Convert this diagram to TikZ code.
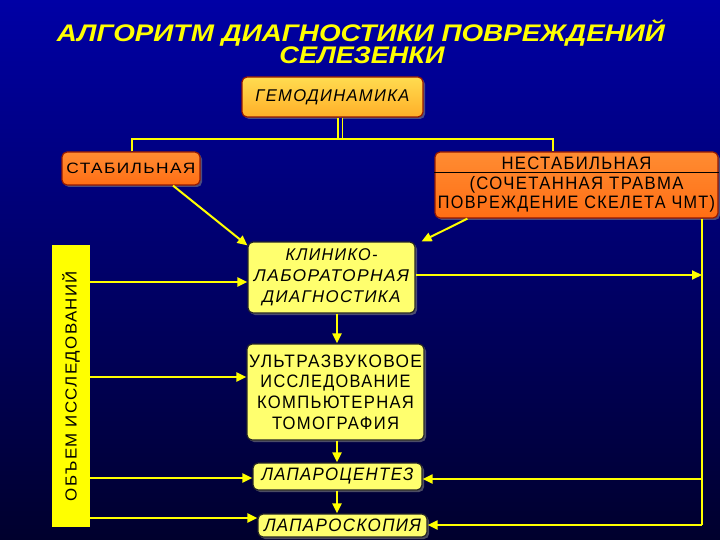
\documentclass[tikz,border=0pt]{standalone}
\usepackage{fontspec}
\setmainfont{Liberation Sans}
\newfontfamily\spaced[LetterSpace=8]{Liberation Sans}
\usetikzlibrary{arrows.meta,shadows}
\definecolor{bgtop}{RGB}{0,0,165}
\definecolor{bgbot}{RGB}{0,0,45}
\definecolor{ylw}{RGB}{255,255,0}
\definecolor{pale}{RGB}{255,255,110}
\definecolor{orng}{RGB}{255,110,20}
\definecolor{orngtop}{RGB}{255,140,50}
\definecolor{gold}{RGB}{255,220,80}
\definecolor{goldbot}{RGB}{255,175,40}
\definecolor{rim}{RGB}{150,25,0}
\newcommand{\fit}[2]{\resizebox{#1pt}{\height}{#2}}

\begin{document}
\begin{tikzpicture}[x=1pt, y=-1pt,
  box/.style={rounded corners=5pt, inner sep=0pt, align=center, text=black, line width=1.2pt,
    drop shadow={opacity=0.6, shadow xshift=2pt, shadow yshift=-2pt}},
  pale box/.style={box, draw=black!85, fill=pale},
  orange box/.style={box, draw=rim, top color=orngtop, bottom color=orng},
  wire/.style={ylw, line width=1.5pt},
  arr/.style={ylw, line width=2pt, -{Triangle[length=10pt, width=9pt]}}]
  \useasboundingbox (0,0) rectangle (720,540);
  \shade[top color=bgtop, bottom color=bgbot] (0,0) rectangle (720,540);

  % title
  \node[ylw, anchor=base, inner sep=0pt, font=\bfseries\itshape\fontsize{24}{24}\selectfont] (T1) at (361,42)
    {\fit{608}{АЛГОРИТМ ДИАГНОСТИКИ ПОВРЕЖДЕНИЙ}};
  \node[ylw, anchor=base, inner sep=0pt, font=\bfseries\itshape\fontsize{24}{24}\selectfont] (T2) at (362,64)
    {\fit{165}{СЕЛЕЗЕНКИ}};

  % boxes
  \node[box, draw=rim, top color=gold, bottom color=goldbot, minimum width=181pt, minimum height=40pt,
    font=\spaced\itshape\fontsize{17}{17}\selectfont] (G) at (332.5,97) {\fit{154}{ГЕМОДИНАМИКА}};
  \node[orange box, minimum width=138pt, minimum height=33pt,
    font=\spaced\fontsize{15}{15}\selectfont] (S) at (131,168.5) {\fit{129}{СТАБИЛЬНАЯ}};
  \node[orange box, minimum width=283pt, minimum height=66pt,
    font=\spaced\fontsize{18}{19.5}\selectfont] (N) at (576.5,185)
    {\fit{150}{НЕСТАБИЛЬНАЯ}\\ \fit{214}{(СОЧЕТАННАЯ ТРАВМА}\\ \fit{277}{ПОВРЕЖДЕНИЕ СКЕЛЕТА ЧМТ)}};
  \draw[black, line width=1pt] (N.west |- 0,173) -- (N.east |- 0,173);
  \node[pale box, minimum width=167pt, minimum height=71pt,
    font=\spaced\itshape\fontsize{17}{21}\selectfont] (K) at (331.5,277.5)
    {\fit{92}{КЛИНИКО-}\\ \fit{155}{ЛАБОРАТОРНАЯ}\\ \fit{138}{ДИАГНОСТИКА}};
  \node[pale box, minimum width=177pt, minimum height=96pt,
    font=\spaced\fontsize{18}{20.7}\selectfont] (U) at (335.5,392)
    {\fit{173}{УЛЬТРАЗВУКОВОЕ}\\ \fit{150}{ИССЛЕДОВАНИЕ}\\ \fit{157}{КОМПЬЮТЕРНАЯ}\\ \fit{127}{ТОМОГРАФИЯ}};
  \node[pale box, minimum width=169pt, minimum height=27pt,
    font=\spaced\itshape\fontsize{18}{18}\selectfont] (LC) at (337.5,476.5) {\fit{152}{ЛАПАРОЦЕНТЕЗ}};
  \node[pale box, minimum width=169pt, minimum height=23pt,
    font=\spaced\itshape\fontsize{18}{18}\selectfont] (LS) at (342.5,525.5) {\fit{157}{ЛАПАРОСКОПИЯ}};
  \node[fill=ylw, rotate=90, inner sep=0pt, minimum width=282pt, minimum height=38pt,
    font=\spaced\fontsize{16}{16}\selectfont] (V) at (71,386) {\fit{230}{ОБЪЕМ ИССЛЕДОВАНИЙ}\hspace{26pt}};

  % connectors
  \coordinate (J) at (340,139);
  \coordinate (JL) at (132,139);
  \coordinate (JR) at (553,139);
  \coordinate (R) at (702,525);
  \draw[draw=ylw, double={rgb,255:red,0;green,0;blue,150}, double distance=3pt, line width=1.2pt] (G.south -| J) -- (J);
  \draw[wire] (S.north -| JL) |- (JR) -- (N.north -| JR);
  \draw[arr] ([xshift=42pt]S.south) -- ([yshift=-4pt]K.north west);
  \draw[arr] ([xshift=33pt]N.south west) -- ([xshift=6pt]K.north east);
  \draw[wire] (N.south -| R) -- (R);
  \draw[arr] (K.east |- 0,275) -- (R |- 0,275);
  \draw[arr] (R |- 0,479) -- (LC.east |- 0,479);
  \draw[arr] (R) -- (LS.east |- R);
  \draw[arr] (V.south |- 0,282) -- (K.west |- 0,282);
  \draw[arr] (V.south |- 0,377) -- (U.west |- 0,377);
  \draw[arr] (V.south |- 0,478) -- (LC.west |- 0,478);
  \draw[arr] (V.south |- 0,518) -- (LS.west |- 0,518);
  \draw[arr] (K.south -| 337,0) -- (U.north -| 337,0);
  \draw[arr] (U.south -| 337,0) -- (LC.north -| 337,0);
  \draw[arr] (LC.south -| 337,0) -- (LS.north -| 337,0);
\end{tikzpicture}
\end{document}
